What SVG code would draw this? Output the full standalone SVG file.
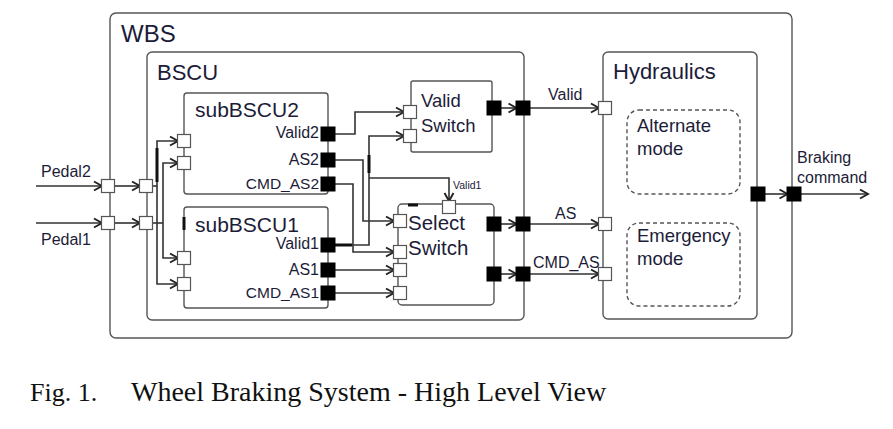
<svg xmlns="http://www.w3.org/2000/svg" width="893" height="429" viewBox="0 0 893 429">
<style>
.box{fill:#fff;stroke:#555;stroke-width:1.4}
.dash{fill:none;stroke:#555;stroke-width:1.4;stroke-dasharray:4 3}
.t{font-family:"Liberation Sans",Arial,sans-serif;fill:#1c1c38}
.w{fill:none;stroke:#333;stroke-width:1.6}
.wa{fill:none;stroke:#333;stroke-width:1.6;marker-end:url(#ah)}
.thk{stroke:#111;stroke-width:3}
.pw{fill:#fff;stroke:#555;stroke-width:1.2}
.pb{fill:#000;stroke:#000;stroke-width:1}
.cap{font-family:"Liberation Serif","Times New Roman",serif;fill:#111}
</style>
<defs>
<marker id="ah" markerUnits="userSpaceOnUse" markerWidth="12" markerHeight="12" viewBox="0 0 12 12" refX="10.5" refY="6" orient="auto">
<path d="M2.5,1.5 L10.5,6 L2.5,10.5" fill="none" stroke="#222" stroke-width="1.9"/>
</marker>
<rect id="pw" class="pw" x="-6.5" y="-6.5" width="13" height="13"/>
<rect id="pb" class="pb" x="-7" y="-7" width="14" height="14"/>
</defs>
<rect width="893" height="429" fill="#fff"/>

<g id="wbs">
<rect class="box" x="110" y="13" width="682" height="325" rx="6"/>
<text class="t" x="121" y="42" font-size="24">WBS</text>
</g>
<g id="bscu">
<rect class="box" x="147" y="52" width="377" height="268" rx="5"/>
<text class="t" x="157" y="80" font-size="22">BSCU</text>
</g>
<g id="hydraulics">
<rect class="box" x="603" y="52" width="154" height="267" rx="5"/>
<text class="t" x="613" y="79" font-size="22">Hydraulics</text>
</g>
<g id="alternate">
<rect class="dash" x="627" y="110" width="113" height="84" rx="12"/>
<text class="t" x="637" y="132" font-size="18.5">Alternate</text>
<text class="t" x="637" y="155" font-size="18.5">mode</text>
</g>
<g id="emergency">
<rect class="dash" x="627" y="223" width="113" height="83" rx="12"/>
<text class="t" x="637" y="242" font-size="18.5">Emergency</text>
<text class="t" x="637" y="265" font-size="18.5">mode</text>
</g>
<g id="subBSCU2">
<rect class="box" x="184" y="93" width="144" height="101" rx="3"/>
<text class="t" x="195" y="117" font-size="21">subBSCU2</text>
<text class="t" x="319" y="138" font-size="16" text-anchor="end">Valid2</text>
<text class="t" x="319" y="165" font-size="16" text-anchor="end">AS2</text>
<text class="t" x="319" y="189" font-size="15.5" text-anchor="end">CMD_AS2</text>
</g>
<g id="subBSCU1">
<rect class="box" x="184" y="207" width="144" height="101" rx="3"/>
<text class="t" x="195" y="232" font-size="21">subBSCU1</text>
<text class="t" x="319" y="249" font-size="16" text-anchor="end">Valid1</text>
<text class="t" x="319" y="275" font-size="16" text-anchor="end">AS1</text>
<text class="t" x="319" y="298" font-size="15.5" text-anchor="end">CMD_AS1</text>
</g>
<g id="validSwitch">
<rect class="box" x="411" y="81" width="81" height="71" rx="2"/>
<text class="t" x="421" y="107" font-size="18.5">Valid</text>
<text class="t" x="421" y="132" font-size="18.5">Switch</text>
</g>
<g id="selectSwitch">
<rect class="box" x="398" y="204" width="96" height="101" rx="4"/>
<text class="t" x="408" y="230" font-size="20.5">Select</text>
<text class="t" x="408" y="255" font-size="20.5">Switch</text>
</g>

<g id="connectors">
<path class="wa" d="M36,186 H102"/>
<path class="wa" d="M36,223 H102"/>
<path class="wa" d="M114.5,186 H140"/>
<path class="wa" d="M114.5,223 H140"/>
<path class="w" d="M152.5,186 H157"/>
<path class="w" d="M152.5,223 H163"/>
<path class="wa" d="M157,186 V141 H178"/>
<path class="wa" d="M157,186 V284 H178"/>
<path class="wa" d="M163,223 V163 H178"/>
<path class="wa" d="M163,223 V258 H178"/>
<path class="wa" d="M335,134 H355 V112 H404"/>
<path class="wa" d="M335,245 H369 V136 H404"/>
<path class="wa" d="M369,178 H449 V201"/>
<path class="wa" d="M335,160 H363 V221 H394"/>
<path class="wa" d="M335,184 H353 V252 H394"/>
<path class="wa" d="M335,270 H394"/>
<path class="wa" d="M335,293 H394"/>
<path class="wa" d="M501,108 H516.5"/>
<path class="wa" d="M501,224 H516.5"/>
<path class="wa" d="M501,274 H516.5"/>
<path class="wa" d="M530,108 H599"/>
<path class="wa" d="M530,224 H599"/>
<path class="wa" d="M530,274 H599"/>
<path class="wa" d="M765,194 H787.5"/>
<path class="wa" d="M801,194 H868"/>
<path class="thk" d="M157,148 V182"/>
<path class="thk" d="M184,217 V230"/>
<path class="thk" d="M369,155 V173"/>
<path class="thk" d="M408,205 H418"/>
<path class="thk" d="M335,245 H352"/>
<text class="t" x="548" y="100" font-size="16">Valid</text>
<text class="t" x="555" y="219" font-size="16">AS</text>
<text class="t" x="533" y="268" font-size="16">CMD_AS</text>
<text class="t" x="453" y="189" font-size="10.5">Valid1</text>
<text class="t" x="41" y="177" font-size="16">Pedal2</text>
<text class="t" x="41" y="245" font-size="16">Pedal1</text>
<text class="t" x="797" y="163" font-size="16">Braking</text>
<text class="t" x="797" y="183" font-size="16">command</text>
</g>

<g id="ports">
<use href="#pw" x="108" y="186"/>
<use href="#pw" x="108" y="223"/>
<use href="#pw" x="146" y="186"/>
<use href="#pw" x="146" y="223"/>
<use href="#pw" x="184" y="141"/>
<use href="#pw" x="184" y="163"/>
<use href="#pw" x="184" y="258"/>
<use href="#pw" x="184" y="284"/>
<use href="#pw" x="410" y="112"/>
<use href="#pw" x="410" y="136"/>
<use href="#pw" x="449" y="207"/>
<use href="#pw" x="400" y="221"/>
<use href="#pw" x="400" y="252"/>
<use href="#pw" x="400" y="270"/>
<use href="#pw" x="400" y="293"/>
<use href="#pw" x="605" y="108"/>
<use href="#pw" x="605" y="224"/>
<use href="#pw" x="605" y="274"/>
<use href="#pb" x="328" y="134"/>
<use href="#pb" x="328" y="160"/>
<use href="#pb" x="328" y="184"/>
<use href="#pb" x="328" y="245"/>
<use href="#pb" x="328" y="270"/>
<use href="#pb" x="328" y="293"/>
<use href="#pb" x="494" y="108"/>
<use href="#pb" x="494" y="224"/>
<use href="#pb" x="494" y="274"/>
<use href="#pb" x="523" y="108"/>
<use href="#pb" x="523" y="224"/>
<use href="#pb" x="523" y="274"/>
<use href="#pb" x="758" y="194"/>
<use href="#pb" x="794" y="194"/>
</g>

<g id="caption">
<text class="cap" x="30" y="401" font-size="26">Fig. 1.</text>
<text class="cap" x="131" y="401" font-size="28">Wheel Braking System - High Level View</text>
</g>
</svg>
